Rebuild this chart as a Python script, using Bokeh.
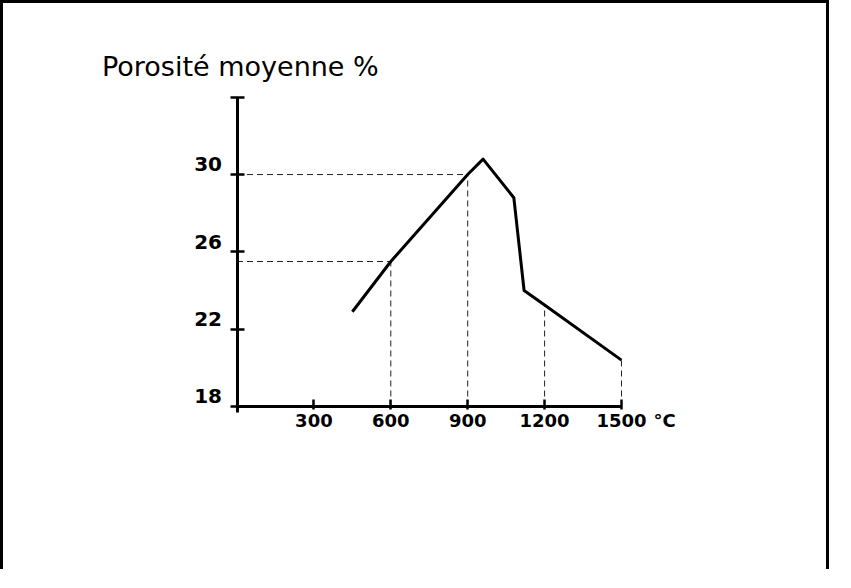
from bokeh.plotting import figure
from bokeh.models import Range1d, FixedTicker, Label
from bokeh.embed import file_html
from bokeh.resources import INLINE

# Data
temperature = [450, 600, 900, 960, 1080, 1120, 1200, 1500]
porosity = [22.9, 25.5, 30.0, 30.8, 28.8, 24.0, 23.25, 20.4]

# Reference (dashed) lines
ref_v_x = [600, 900, 1200, 1500]
ref_v_y = [25.5, 30.0, 23.25, 20.4]
ref_h_x = [600, 900]
ref_h_y = [25.5, 30.0]

x_ticks = [300, 600, 900, 1200, 1500]
y_ticks = [18, 22, 26, 30, 34]
y_labels = {18: "18\n", 22: "22\n", 26: "26\n", 30: "30\n", 34: ""}

x_min, x_max = 0, 1500
y_min, y_max = 18, 34

title_text = "Porosité moyenne %"
unit_text = "°C"

# view window (data units) so that the drawing sits where it does on the page
view_x = (-676.9, 2323.2)
view_y = (11.48, 38.85)

p = figure(width=829, height=569,
           x_range=Range1d(*view_x), y_range=Range1d(*view_y),
           output_backend="svg", toolbar_location=None,
           min_border_left=60, min_border_right=0,
           min_border_top=0, min_border_bottom=40)
p.grid.visible = False
p.outline_line_color = None
p.background_fill_color = "white"
p.border_fill_color = "white"
p.styles = {"border-left": "3px solid black", "border-top": "3px solid black",
            "border-right": "3px solid black"}

font = "DejaVu Sans"

# X axis
xa = p.xaxis[0]
xa.fixed_location = y_min
xa.bounds = (x_min, x_max)
xa.ticker = FixedTicker(ticks=x_ticks)
xa.axis_line_width = 3
xa.axis_line_color = "black"
xa.major_tick_line_width = 2.5
xa.major_tick_line_color = "black"
xa.major_tick_in = 7
xa.major_tick_out = 3
xa.minor_tick_line_color = None
xa.major_label_standoff = 5
xa.major_label_text_font = font
xa.major_label_text_font_style = "bold"
xa.major_label_text_font_size = "18px"
xa.major_label_text_color = "black"

# Y axis
ya = p.yaxis[0]
ya.fixed_location = x_min
ya.bounds = (17.7, y_max)
ya.ticker = FixedTicker(ticks=y_ticks)
ya.major_label_overrides = y_labels
ya.axis_line_width = 3
ya.axis_line_color = "black"
ya.major_tick_line_width = 2.5
ya.major_tick_line_color = "black"
ya.major_tick_in = 7
ya.major_tick_out = 7
ya.minor_tick_line_color = None
ya.major_label_standoff = 8
ya.major_label_text_font = font
ya.major_label_text_font_style = "bold"
ya.major_label_text_font_size = "20px"
ya.major_label_text_line_height = 0.85
ya.major_label_text_color = "black"

# Dashed guide lines
p.segment(x0=ref_v_x, y0=[y_min] * len(ref_v_x), x1=ref_v_x, y1=ref_v_y,
          line_color="#222222", line_width=1, line_dash="6 4")
p.segment(x0=[x_min] * len(ref_h_x), y0=ref_h_y, x1=ref_h_x, y1=ref_h_y,
          line_color="#222222", line_width=1, line_dash="6 4")

# Main curve
p.line(temperature, porosity, line_color="black", line_width=3, line_join="round")

# Title / unit labels
p.add_layout(Label(x=x_min, y=y_max, x_offset=-135, y_offset=31, text=title_text,
                   text_font=font, text_font_size="27px", text_color="black",
                   text_align="left", text_baseline="alphabetic"))
p.add_layout(Label(x=x_max, y=y_min, x_offset=32, y_offset=-4, text=unit_text,
                   text_font=font, text_font_style="bold", text_font_size="18px",
                   text_color="black", text_align="left", text_baseline="top"))

open("out.html", "w").write(file_html(p, INLINE))
